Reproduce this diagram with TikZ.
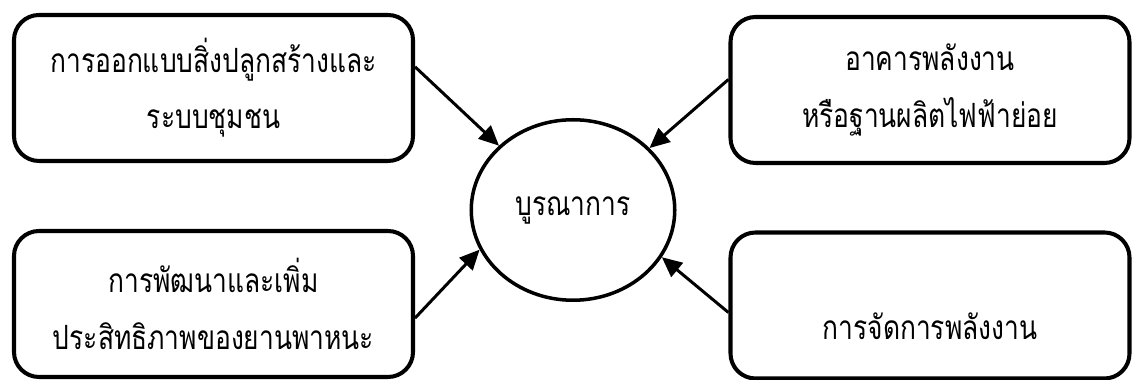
\documentclass[tikz,border=0pt]{standalone}
\usepackage{fontspec}
\newfontfamily\thaifont[Script=Thai,FakeStretch=0.79]{Loma}
\usetikzlibrary{arrows.meta,shapes.geometric}

\tikzset{
  topicbox/.style={draw, line width=2.3pt, rounded corners=0.5cm, minimum width=7.98cm, minimum height=2.92cm, align=center, font=\thaifont\fontsize{19}{32}\selectfont},
  hub/.style={ellipse, draw, line width=2pt, inner sep=0pt, minimum width=4.07cm, minimum height=3.61cm, font=\thaifont\fontsize{19}{32}\selectfont},
  feed/.style={line width=1.7pt, -{Triangle[length=0.4cm,width=0.36cm]}}
}

\begin{document}
\begin{tikzpicture}
  \useasboundingbox (0,0) rectangle (22.66,7.6);

  %% Centre
  \node[hub] (hub) at (11.46,3.4) {บูรณาการ};

  %% Four topics
  \node[topicbox] (b1) at (4.27,5.84) {การออกแบบสิ่งปลูกสร้างและ\\ระบบชุมชน};
  \node[topicbox] (b2) at (18.6,5.8)  {อาคารพลังงาน\\หรือฐานผลิตไฟฟ้าย่อย};
  \node[topicbox] (b3) at (4.27,1.52) {การพัฒนาและเพิ่ม\\ประสิทธิภาพของยานพาหนะ};
  \node[topicbox, text height=1.35cm] (b4) at (18.6,1.49) {การจัดการพลังงาน};

  %% Arrows into the centre
  \draw[feed] (b1.6)   -- (hub.139);
  \draw[feed] (b2.177) -- (hub.39);
  \draw[feed] (b3.-4)  -- (hub.203);
  \draw[feed] (b4.182) -- (hub.332);
\end{tikzpicture}
\end{document}
